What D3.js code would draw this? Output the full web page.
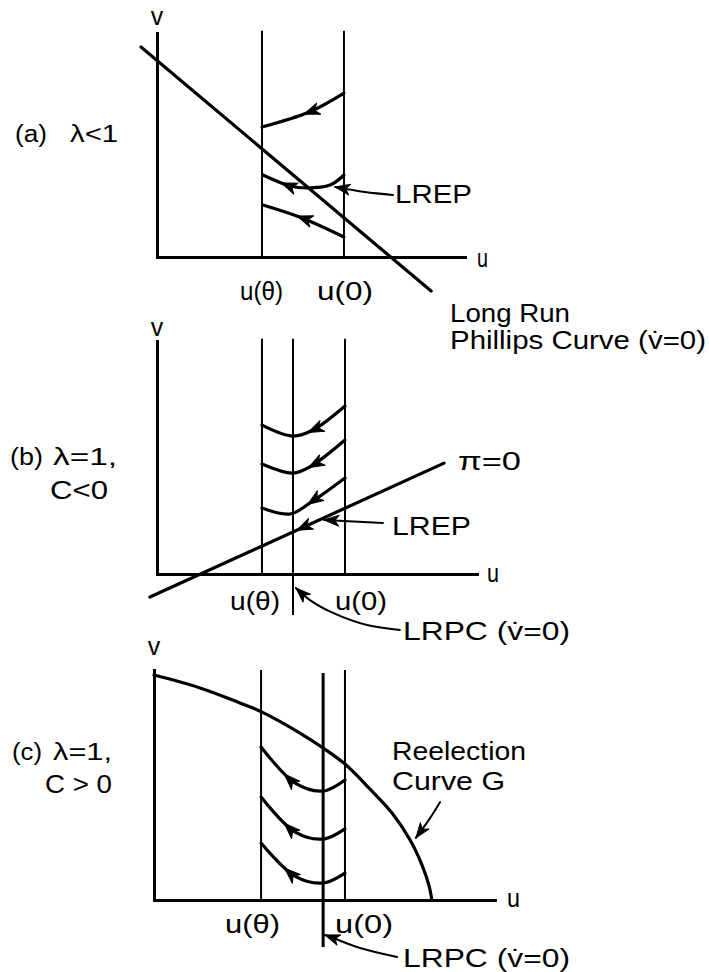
<!DOCTYPE html>
<html>
<head>
<meta charset="utf-8">
<script src="https://cdn.jsdelivr.net/npm/d3@7"></script>
<style>
body { margin: 0; background: #fff; }
svg { display: block; }
text { font-family: "Liberation Sans", Arial, sans-serif; font-size: 25px; fill: #000; }
</style>
</head>
<body>
<svg width="709" height="972"></svg>
<script>
// every panel runs u and v from 0 to 100 along its drawn axes

// (a) lambda < 1
const uThetaA = 34.1, uZeroA = 60.7
const phillipsLine = [[-5.2, 93.75], [89.0, -15.2]]
const pathsA = [
  [[60.7, 73.2], [49.4, 64.7], [34.1, 58.0]],
  [[60.7, 36.6], [56.2, 32.1], [48.7, 30.8], [43.2, 31.7], [34.4, 36.6]],
  [[60.7, 8.9], [47.1, 17.4], [34.4, 23.2]]
]
const arrowAtA = [0.42, 0.68, 0.5]
const lrepPointerA = [[76.6, 27.7], [67.5, 29.0], [57.8, 31.25]]

// (b) lambda = 1, c < 0
const uThetaB = 32.8, lrpcB = 42.5, uZeroB = 58.75
const piLine = [[-2.2, -9.9], [89.7, 47.6]]
const pathsB = [
  [[58.75, 72.1], [48.75, 61.8], [42.5, 59.2], [32.8, 63.9]],
  [[58.75, 57.5], [47.8, 46.0], [42.5, 43.3], [32.8, 47.2]],
  [[58.75, 41.2], [47.8, 30.5], [41.6, 25.75], [32.8, 28.3]]
]
const lrepPointerB = [[70.6, 21.9], [52.2, 23.2]]
const lrpcPointerB = [[75.9, -24.0], [65.6, -21.9], [55, -16.7], [47.8, -11.2], [43.4, -6.0]]

// (c) lambda = 1, c > 0
const uThetaC = 31.4, lrpcC = 49.6, uZeroC = 56.0
const reelectionG = [[0, 97.8], [13.5, 92.2], [25.2, 85.7], [31.7, 81.7], [42.8, 72.6],
  [49.6, 66.1], [56.0, 59.1], [63.3, 48.3], [69.8, 37.8], [75.1, 26.1],
  [78.6, 15.2], [80.6, 6.5], [81.5, 0]]
const pathsC = [
  [[56, 52.2], [49.6, 47.4], [41.3, 50.9], [31.4, 66.5]],
  [[56, 30.9], [49.6, 26.5], [41.3, 29.6], [31.4, 44.8]],
  [[56, 11.7], [49.6, 7.4], [41.3, 10.4], [31.4, 24.8]]
]
const gPointer = [[83.9, 42.6], [81.0, 35.7], [76.8, 27.0]]
const lrpcPointerC = [[71.3, -24.8], [60.4, -20.9], [52.5, -16.5], [50.1, -15.2]]

const svg = d3.select("svg")

function makePanel(left, right, bottom, top) {
  const x = d3.scaleLinear().domain([0, 100]).range([left, right])
  const y = d3.scaleLinear().domain([0, 100]).range([bottom, top])
  const g = svg.append("g")
  const line = d3.line().x(d => x(d[0])).y(d => y(d[1]))
  return { x, y, g, line }
}

function drawAxes(p) {
  p.g.append("g").attr("transform", "translate(0," + p.y(0) + ")")
    .call(d3.axisBottom(p.x).tickValues([]).tickSizeOuter(0))
  p.g.append("g").attr("transform", "translate(" + p.x(0) + ",0)")
    .call(d3.axisLeft(p.y).tickValues([]).tickSizeOuter(0))
  p.g.selectAll(".domain").attr("stroke", "#000").attr("stroke-width", 3)
    .attr("stroke-linecap", "square")
}

function vline(p, u, v0, v1, w) {
  p.g.append("line")
    .attr("x1", p.x(u)).attr("x2", p.x(u))
    .attr("y1", p.y(v0)).attr("y2", p.y(v1))
    .attr("stroke", "#000").attr("stroke-width", w)
}

function stroke(p, pts, w, curve) {
  const ln = p.line.curve(curve || d3.curveLinear)
  return p.g.append("path").attr("d", ln(pts))
    .attr("fill", "none").attr("stroke", "#000").attr("stroke-width", w)
    .attr("stroke-linecap", "round").node()
}

// barbed arrowhead, tip at `tip`, pointing along unit vector `dir`
function head(p, tip, dir, len, wid) {
  const nx = -dir[1], ny = dir[0]
  const bx = tip[0] - dir[0] * len, by = tip[1] - dir[1] * len
  const kx = tip[0] - dir[0] * len * 0.72, ky = tip[1] - dir[1] * len * 0.72
  p.g.append("path")
    .attr("d", "M" + tip[0] + "," + tip[1] +
      "L" + (bx + nx * wid / 2) + "," + (by + ny * wid / 2) +
      "L" + kx + "," + ky +
      "L" + (bx - nx * wid / 2) + "," + (by - ny * wid / 2) + "Z")
    .attr("fill", "#000").attr("stroke", "#000").attr("stroke-width", 1)
    .attr("stroke-linejoin", "round")
}

// arrowhead centred at a fraction of the path, pointing the way it was drawn
function arrowOn(p, node, frac, reverse) {
  const L = node.getTotalLength()
  let s = L * frac + (reverse ? -8 : 8)
  s = Math.max(2, Math.min(L - 2, s))
  const a = node.getPointAtLength(s - 2), b = node.getPointAtLength(s + 2)
  let dx = b.x - a.x, dy = b.y - a.y
  const m = Math.hypot(dx, dy)
  dx /= m; dy /= m
  if (reverse) { dx = -dx; dy = -dy }
  const t = node.getPointAtLength(s)
  head(p, [t.x, t.y], [dx, dy], 16, 12)
}

function arrowEnd(p, node) {
  const L = node.getTotalLength()
  const a = node.getPointAtLength(L - 5), b = node.getPointAtLength(L)
  const m = Math.hypot(b.x - a.x, b.y - a.y)
  head(p, [b.x, b.y], [(b.x - a.x) / m, (b.y - a.y) / m], 15, 11)
}

function label(p, str, x, y, w, size, anchor) {
  const t = p.g.append("text").attr("x", x).attr("y", y).text(str)
  if (w) t.attr("textLength", w).attr("lengthAdjust", "spacingAndGlyphs")
  if (size) t.style("font-size", size + "px")
  if (anchor) t.attr("text-anchor", anchor)
  return t
}

const catmull = d3.curveCatmullRom.alpha(0.5)

// ---------- panel (a)
const A = makePanel(157, 465, 257, 33)
drawAxes(A)
vline(A, uThetaA, 0, 101, 2)
vline(A, uZeroA, 0, 101, 2)
stroke(A, phillipsLine, 3.2)
pathsA.forEach((pts, i) => {
  const n = stroke(A, pts, 3.2, catmull)
  arrowOn(A, n, arrowAtA[i])
})
arrowEnd(A, stroke(A, lrepPointerA, 2, catmull))

label(A, "v", A.x(0), 25, null, 25, "middle")
label(A, "(a)", 15, 142, 32, 23)
label(A, "λ<1", 70, 142, 48, 23)
label(A, "u", 477, 267, 11)
label(A, "u(θ)", 240, 300, 43)
label(A, "u(0)", 317, 300, 56)
label(A, "LREP", 395, 203, 77)
label(A, "Long Run", 450, 322, 120)
label(A, "Phillips Curve (v\u0307=0)", 450, 349, 256)

// ---------- panel (b)
const B = makePanel(157, 477, 574, 341)
drawAxes(B)
vline(B, uThetaB, 0, 101, 2)
vline(B, uZeroB, 0, 101, 2)
vline(B, lrpcB, -17.6, 101, 2)
const piNode = stroke(B, piLine, 3.2)
arrowOn(B, piNode, 0.523, true)
pathsB.forEach(pts => {
  const n = stroke(B, pts, 3.2, catmull)
  arrowOn(B, n, 0.4)
})
arrowEnd(B, stroke(B, lrepPointerB, 2))
arrowEnd(B, stroke(B, lrpcPointerB, 2, catmull))

label(B, "v", B.x(0), 336, null, 25, "middle")
label(B, "(b)", 10, 465, 33, 23)
label(B, "λ=1,", 53, 465, 64, 23)
label(B, "C<0", 50, 499, 58)
label(B, "π=0", 458, 470, 63)
label(B, "LREP", 392, 535, 79)
label(B, "u", 487, 582, 12)
label(B, "u(θ)", 230, 610, 50)
label(B, "u(0)", 335, 610, 52)
label(B, "LRPC (v\u0307=0)", 403, 640, 167)

// ---------- panel (c)
const C = makePanel(154, 495, 900, 670)
drawAxes(C)
vline(C, uThetaC, 0, 100, 2)
vline(C, uZeroC, 0, 100, 2)
vline(C, lrpcC, -20.4, 98.7, 3)
stroke(C, reelectionG, 3.2, catmull)
pathsC.forEach(pts => {
  const n = stroke(C, pts, 3.2, catmull)
  arrowOn(C, n, 0.58)
})
arrowEnd(C, stroke(C, gPointer, 2, catmull))
arrowEnd(C, stroke(C, lrpcPointerC, 2, catmull))

label(C, "v", C.x(0), 655, null, 25, "middle")
label(C, "(c)", 12, 760, 30, 23)
label(C, "λ=1,", 53, 760, 59, 23)
label(C, "C > 0", 45, 793, 67)
label(C, "Reelection", 392, 760, 134)
label(C, "Curve  G", 392, 790, 113)
label(C, "u", 507, 907, 13)
label(C, "u(θ)", 225, 933, 55)
label(C, "u(0)", 335, 933, 58)
label(C, "LRPC (v\u0307=0)", 403, 967, 167)
</script>
</body>
</html>
